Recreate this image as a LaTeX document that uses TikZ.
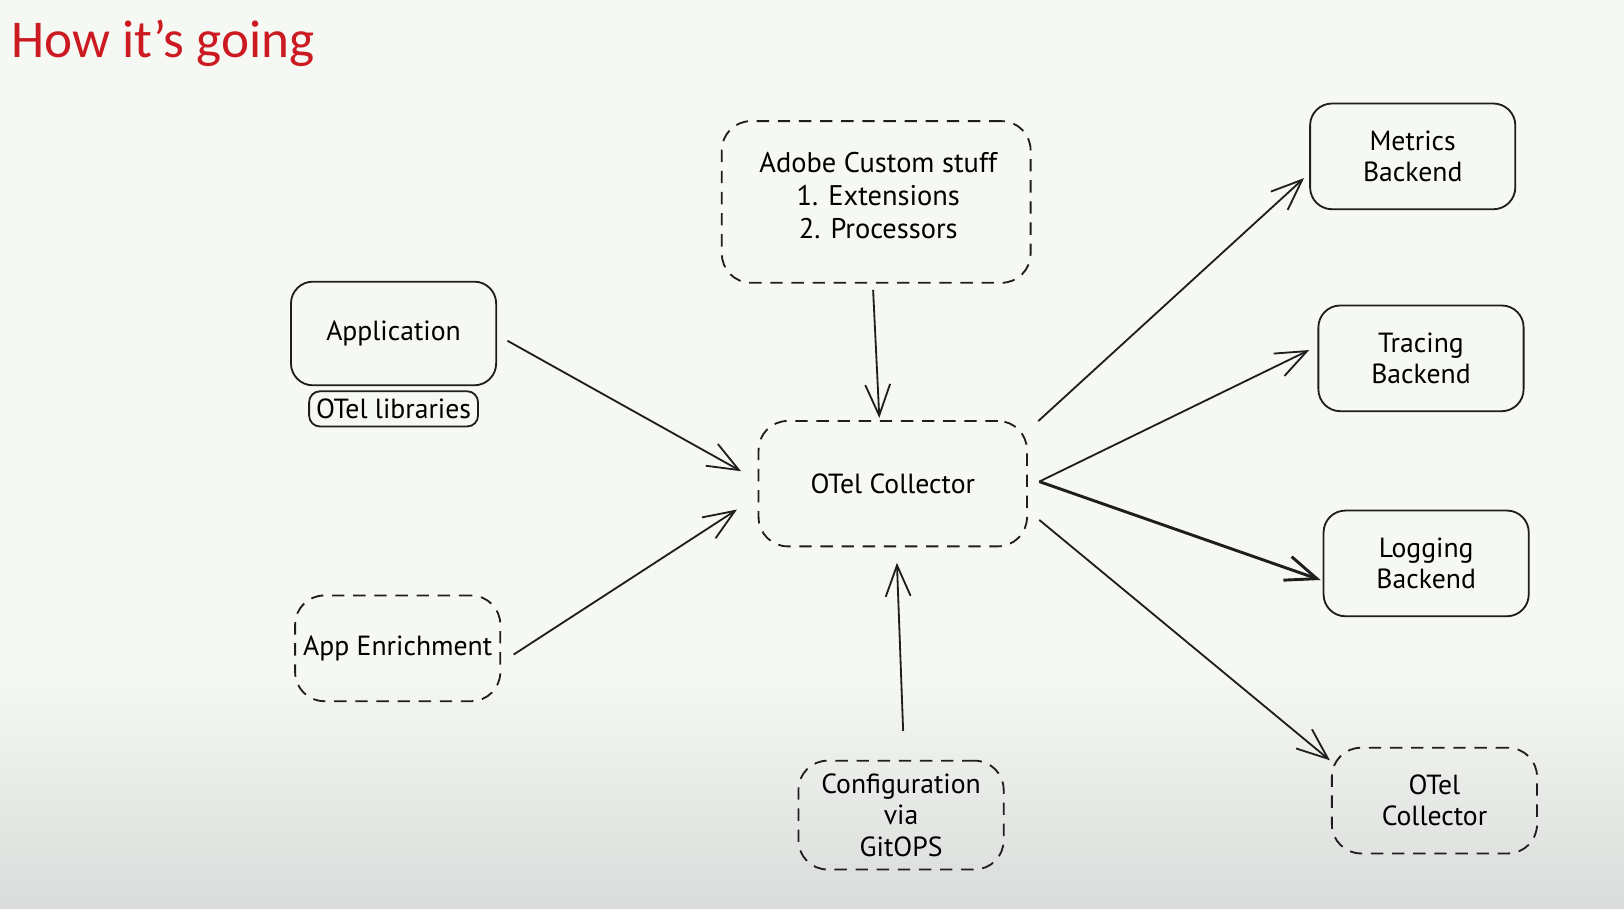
\documentclass[tikz,border=0pt]{standalone}
\usepackage{fontspec}
\setmainfont{PT Sans}
\newfontfamily\titlefont{Carlito}
\usepackage{xcolor}
\usetikzlibrary{arrows.meta, positioning}
\definecolor{slidebg}{HTML}{F6F8F3}
\definecolor{slidegray}{HTML}{D9DCDA}
\definecolor{titlered}{HTML}{CC1A22}
\definecolor{inkline}{HTML}{1E1E1E}

\begin{document}
\begin{tikzpicture}[
    x=0.01cm, y=-0.01cm,
    solidbox/.style={
        rectangle,
        draw=inkline,
        line width=0.5pt,
        rounded corners=6pt,
        minimum width=1.98cm,
        minimum height=1.02cm,
        align=center,
        inner sep=0pt,
        font=\fontsize{7.6}{8.6}\selectfont
    },
    dashbox/.style={
        solidbox,
        dash pattern=on 3.4pt off 2.4pt,
        rounded corners=8pt
    },
    arrow/.style={
        -{Straight Barb[length=0.3cm, width=0.24cm]},
        draw=inkline,
        line width=0.5pt
    }
]
    % slide background with the grey fade at the bottom
    \fill[slidebg] (0,0) rectangle (1568,877);
    \shade[top color=slidebg, bottom color=slidegray] (0,650) rectangle (1568,877);
    \useasboundingbox (0,0) rectangle (1568,877);

    % title
    \node (title) [anchor=north west, text=titlered, font=\titlefont\fontsize{14.6}{16}\selectfont, inner sep=0pt] at (10,19) {How it’s going};

    % sources on the left
    \node (app) [solidbox, minimum height=1cm] at (380,322) {Application};
    \node (libs) [solidbox, minimum width=1.63cm, minimum height=0.34cm, rounded corners=3pt, below=0.04cm of app] {OTel libraries};
    \node (enrich) [dashbox] at (384,626) {App Enrichment};

    % the collector in the middle
    \node (col) [dashbox, minimum width=2.59cm, minimum height=1.21cm] at (862,467) {OTel Collector};
    \node (adobe) [dashbox, minimum width=2.98cm, minimum height=1.56cm] at (846,195) {};
    \node (adobetext) [font=\fontsize{7.8}{9.1}\selectfont, align=center, inner sep=0pt] at (848,189) {Adobe Custom stuff\\1. Extensions\\2. Processors};
    \node (config) [dashbox, minimum height=1.05cm, font=\fontsize{7.6}{8.7}\selectfont] at (870,787) {Configuration\\via\\GitOPS};

    % backends on the right
    \node (metrics) [solidbox] at (1364,151) {Metrics\\Backend};
    \node (tracing) [solidbox] at (1372,346) {Tracing\\Backend};
    \node (logging) [solidbox] at (1377,544) {Logging\\Backend};
    \node (col2) [dashbox] at (1385,773) {OTel\\Collector};

    % arrows into the collector
    \draw[arrow] ([shift={(10,7)}]app.east) -- ([shift={(-16,-12)}]col.west);
    \draw[arrow] ([shift={(12,6)}]enrich.east) -- ([shift={(-20,25)}]col.west);
    \draw[arrow] ([shift={(-3,6)}]adobe.south) -- ([shift={(-13,-2)}]col.north);
    \draw[arrow] ([shift={(2,-28)}]config.north) -- ([shift={(4,15)}]col.south);

    % arrows out of the collector
    \draw[arrow] ([shift={(10,1)}]col.north east) -- ([shift={(-5,21)}]metrics.west);
    \draw[arrow] ([shift={(11,-2)}]col.east) -- ([shift={(-8,-8)}]tracing.west);
    \draw[arrow, line width=0.8pt] ([shift={(11,-2)}]col.east) -- ([shift={(-2,16)}]logging.west);
    \draw[arrow] ([shift={(11,35)}]col.east) -- ([shift={(-1,13)}]col2.north west);

\end{tikzpicture}
\end{document}
